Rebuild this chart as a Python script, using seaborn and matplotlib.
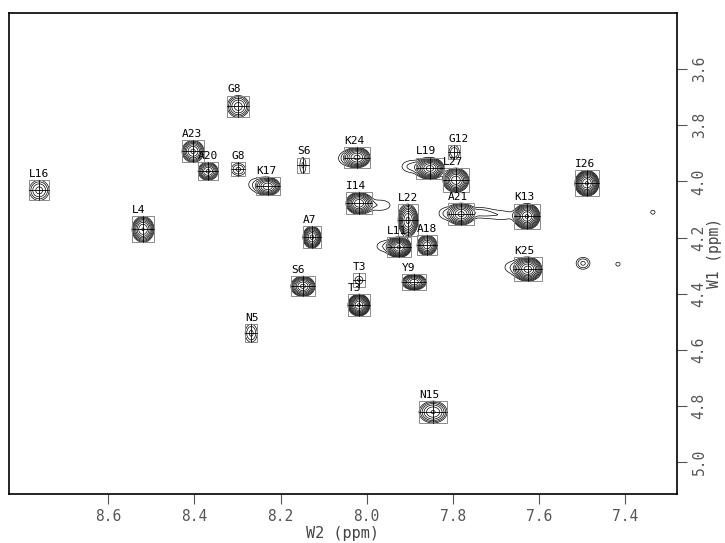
import numpy as np
import matplotlib
matplotlib.use("Agg")
import matplotlib.pyplot as plt
from matplotlib.patches import Rectangle
import seaborn as sns

# assigned cross peaks: label, W2 (HN, ppm), W1 (H-alpha, ppm)
labels = ["L16", "L4", "A23", "A20", "G8", "G8", "K17", "S6", "S6", "A7",
          "K24", "I14", "T3", "T3", "L11", "L22", "Y9", "A18", "L19", "N15",
          "G12", "L27", "A21", "K13", "K25", "I26", "N5"]
w2 = [8.760, 8.519, 8.403, 8.368, 8.298, 8.298, 8.229, 8.148, 8.148, 8.127,
      8.022, 8.018, 8.018, 8.018, 7.925, 7.904, 7.890, 7.860, 7.853, 7.846,
      7.797, 7.793, 7.781, 7.628, 7.626, 7.489, 8.268]
w1 = [4.032, 4.171, 3.893, 3.964, 3.733, 3.957, 4.018, 3.943, 4.374, 4.199,
      3.915, 4.078, 4.352, 4.441, 4.235, 4.139, 4.359, 4.228, 3.954, 4.822,
      3.897, 3.996, 4.117, 4.125, 4.313, 4.007, 4.541]
# peak height relative to the lowest contour
height = [3.3, 12, 9, 9, 5, 2.2, 11, 1.5, 13, 13,
          13, 16, 1.5, 25, 25, 13, 11, 11, 20, 6,
          2.0, 16, 13, 25, 20, 25, 2.2]
# half width of the lowest contour (ppm)
hw2 = [0.023, 0.0255, 0.0255, 0.023, 0.0255, 0.016, 0.028, 0.007, 0.028, 0.021,
       0.030, 0.030, 0.009, 0.0255, 0.028, 0.023, 0.028, 0.023, 0.0325, 0.0325,
       0.012, 0.030, 0.030, 0.030, 0.0325, 0.028, 0.014]
hw1 = [0.036, 0.046, 0.039, 0.032, 0.039, 0.021, 0.032, 0.028, 0.036, 0.039,
       0.036, 0.039, 0.014, 0.039, 0.036, 0.057, 0.028, 0.036, 0.039, 0.039,
       0.025, 0.043, 0.039, 0.046, 0.043, 0.046, 0.032]

# weak unassigned signals and shoulders
extra_w2 = [7.498, 7.417, 7.336, 7.895, 7.969, 7.684, 7.739, 7.818, 7.957, 8.259, 8.050, 7.663]
extra_w1 = [4.292, 4.295, 4.110, 3.947, 4.085, 4.121, 4.110, 4.114, 4.231, 4.011, 3.918, 4.306]
extra_h = [2.2, 1.15, 1.15, 1.6, 1.4, 1.3, 1.4, 1.4, 1.4, 1.3, 1.4, 1.3]
extra_hw2 = [0.016, 0.005, 0.005, 0.023, 0.023, 0.023, 0.019, 0.014, 0.019, 0.014, 0.014, 0.016]
extra_hw1 = [0.021, 0.007, 0.007, 0.021, 0.018, 0.014, 0.014, 0.018, 0.018, 0.018, 0.018, 0.018]

xticks = [8.6, 8.4, 8.2, 8.0, 7.8, 7.6, 7.4]
yticks = [3.6, 3.8, 4.0, 4.2, 4.4, 4.6, 4.8, 5.0]

sns.set_theme(style="ticks")
plt.rcParams["font.family"] = ["DejaVu Sans Mono", "DejaVu Sans"]

x = np.linspace(7.28, 8.83, 900)
y = np.linspace(3.40, 5.114, 700)
X, Y = np.meshgrid(x, y)
Z = np.zeros_like(X)
for cx, cy, h, rx, ry in zip(w2 + extra_w2, w1 + extra_w1, height + extra_h,
                             hw2 + extra_hw2, hw1 + extra_hw1):
    k = np.sqrt(2 * np.log(h))
    sx, sy = rx / k, ry / k
    Z += h * np.exp(-0.5 * ((X - cx) / sx) ** 2 - 0.5 * ((Y - cy) / sy) ** 2)

fig = plt.figure(figsize=(7.25, 5.43), dpi=100)
ax = fig.add_axes([9 / 725, 1 - 494 / 543, 668 / 725, 481 / 543])
levels = 1.0 * 1.42 ** np.arange(12)
ax.contour(X, Y, Z, levels=levels, colors="black", linewidths=0.5)

for lab, cx, cy, rx, ry in zip(labels, w2, w1, hw2, hw1):
    bx = max(rx * 1.0, 0.014)
    by = max(ry * 1.0, 0.025)
    ax.add_patch(Rectangle((cx - bx, cy - by), 2 * bx, 2 * by, fill=False,
                           edgecolor="#8a8a8a", linewidth=0.7, zorder=3))
    ax.plot([cx - bx, cx + bx], [cy, cy], color="black", lw=0.6, zorder=4)
    ax.plot([cx, cx], [cy - by, cy + by], color="black", lw=0.6, zorder=4)
    # x axis is reversed, so cx + bx is the left edge of the box
    ax.text(cx + bx, cy - by - 0.004, lab, fontsize=8, color="black",
            ha="left", va="bottom", zorder=5)

ax.set_xlim(8.83, 7.28)
ax.set_ylim(5.114, 3.40)
ax.set_xticks(xticks)
ax.set_yticks(yticks)
ax.set_xticklabels([f"{v:.1f}" for v in xticks])
ax.set_yticklabels([f"{v:.1f}" for v in yticks], rotation=90, va="center")
ax.yaxis.tick_right()
ax.yaxis.set_label_position("right")
ax.tick_params(direction="out", length=7, width=0.8, color="#555555",
               labelcolor="#555555", labelsize=10.5)
ax.set_xlabel("W2 (ppm)", fontsize=11, color="#444444", labelpad=2)
ax.set_ylabel("W1 (ppm)", fontsize=10.5, color="#444444", labelpad=0)
for s in ax.spines.values():
    s.set_visible(True)
    s.set_color("black")
    s.set_linewidth(1.2)

fig.savefig("out.png", dpi=100)
